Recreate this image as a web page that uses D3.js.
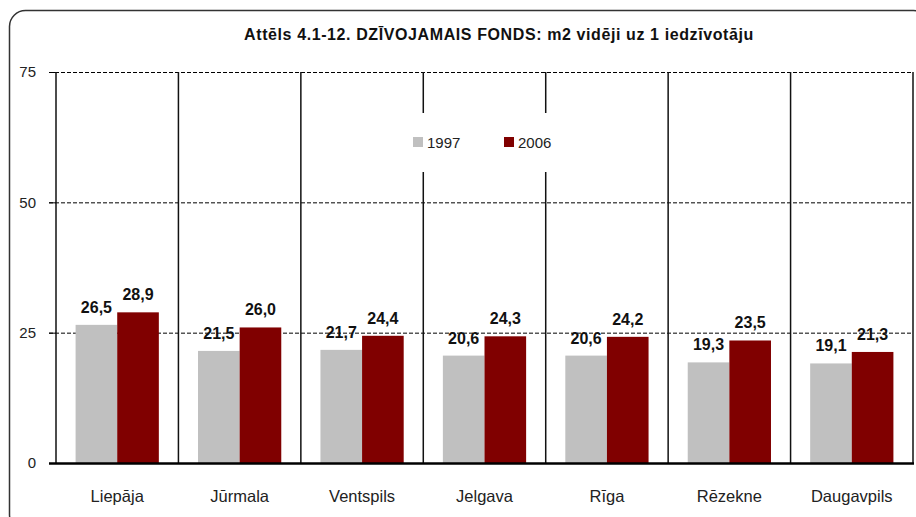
<!DOCTYPE html>
<html>
<head>
<meta charset="utf-8">
<script src="https://cdn.jsdelivr.net/npm/d3@7"></script>
<style>
  body { margin: 0; background: #fff; }
  svg { display: block; }
  text { font-family: "Liberation Sans", Arial, sans-serif; }
</style>
</head>
<body>
<div id="chart"></div>
<script>
// data
const categories = ["Liepāja", "Jūrmala", "Ventspils", "Jelgava", "Rīga", "Rēzekne", "Daugavpils"];
const years = ["1997", "2006"];
const values1997 = [26.5, 21.5, 21.7, 20.6, 20.6, 19.3, 19.1];
const values2006 = [28.9, 26.0, 24.4, 24.3, 24.2, 23.5, 21.3];
const yTicks = [0, 25, 50, 75];

const title = "Attēls 4.1-12. DZĪVOJAMAIS FONDS: m2 vidēji uz 1 iedzīvotāju";
const colors = { "1997": "#c0c0c0", "2006": "#800000" };

const width = 916, height = 517;
const plot = { left: 56, right: 913, top: 72, bottom: 463 };

const svg = d3.select("#chart").append("svg")
    .attr("width", width)
    .attr("height", height);

// outer rounded frame (cropped on the right and bottom)
svg.append("rect")
    .attr("x", 9.5).attr("y", 10.5)
    .attr("width", 920).attr("height", 520)
    .attr("rx", 16).attr("ry", 16)
    .attr("fill", "#fff")
    .attr("stroke", "#333")
    .attr("stroke-width", 1.5);

svg.append("text")
    .attr("x", 499)
    .attr("y", 40)
    .attr("text-anchor", "middle")
    .style("font-size", "16px")
    .style("font-weight", "bold")
    .style("letter-spacing", "0.6px")
    .style("fill", "#111")
    .text(title);

const x0 = d3.scaleBand()
    .domain(categories)
    .range([plot.left, plot.right])
    .padding(0);

const x1 = d3.scaleBand()
    .domain(years)
    .range([x0.bandwidth() * 0.16, x0.bandwidth() * 0.84])
    .padding(0);

const y = d3.scaleLinear()
    .domain([0, 75])
    .range([plot.bottom, plot.top]);

// dashed gridlines
svg.append("g")
    .selectAll("line")
    .data(yTicks.filter(d => d > 0))
    .enter()
    .append("line")
    .attr("x1", plot.left - 7)
    .attr("x2", plot.right)
    .attr("y1", d => y(d) + 0.5)
    .attr("y2", d => y(d) + 0.5)
    .attr("stroke", "#000")
    .attr("stroke-width", 1)
    .attr("stroke-dasharray", "4,2");

// y axis tick labels
const yAxis = svg.append("g")
    .attr("transform", `translate(${plot.left},0)`)
    .call(d3.axisLeft(y).tickValues(yTicks).tickSize(7).tickPadding(13));
yAxis.select(".domain").remove();
yAxis.selectAll(".tick line").attr("stroke", "#000");
yAxis.selectAll("text")
    .style("font-size", "15px")
    .style("fill", "#222")
    .style("font-family", "'Liberation Sans', Arial, sans-serif");

// bars
const rows = categories.map((c, i) => ({ cat: c, vals: [
    { year: "1997", v: values1997[i] },
    { year: "2006", v: values2006[i] }
]}));

const groups = svg.append("g")
    .selectAll("g")
    .data(rows)
    .enter()
    .append("g")
    .attr("transform", d => `translate(${x0(d.cat)},0)`);

groups.selectAll("rect")
    .data(d => d.vals)
    .enter()
    .append("rect")
    .attr("x", d => x1(d.year))
    .attr("y", d => y(d.v))
    .attr("width", x1.bandwidth())
    .attr("height", d => y(0) - y(d.v))
    .attr("fill", d => colors[d.year]);

// category separators
svg.append("g")
    .selectAll("line")
    .data(categories.map(c => x0(c)).concat([plot.right]))
    .enter()
    .append("line")
    .attr("x1", d => d)
    .attr("x2", d => d)
    .attr("y1", plot.top)
    .attr("y2", plot.bottom)
    .attr("stroke", "#111")
    .attr("stroke-width", 1.5);

// baseline
svg.append("line")
    .attr("x1", plot.left - 7)
    .attr("x2", plot.right + 1)
    .attr("y1", y(0) + 0.5)
    .attr("y2", y(0) + 0.5)
    .attr("stroke", "#000")
    .attr("stroke-width", 2.5);

// value labels
groups.selectAll(".val")
    .data(d => d.vals)
    .enter()
    .append("text")
    .attr("class", "val")
    .attr("x", d => x1(d.year) + x1.bandwidth() / 2)
    .attr("y", d => y(d.v) - 12)
    .attr("text-anchor", "middle")
    .style("font-size", "16px")
    .style("font-weight", "bold")
    .style("fill", "#111")
    .text(d => d3.format(".1f")(d.v).replace(".", ","));

// category labels
svg.append("g")
    .selectAll("text")
    .data(categories)
    .enter()
    .append("text")
    .attr("x", d => x0(d) + x0.bandwidth() / 2)
    .attr("y", 502)
    .attr("text-anchor", "middle")
    .style("font-size", "16.5px")
    .style("fill", "#222")
    .text(d => d);

// legend with white box over the separators
const legend = svg.append("g");
legend.append("rect")
    .attr("x", 400).attr("y", 113)
    .attr("width", 165).attr("height", 59)
    .attr("fill", "#fff");
years.forEach((yr, i) => {
    const lx = 413 + i * 91;
    legend.append("rect")
        .attr("x", lx).attr("y", 137)
        .attr("width", 10).attr("height", 10)
        .attr("fill", colors[yr]);
    legend.append("text")
        .attr("x", lx + 14).attr("y", 148)
        .style("font-size", "15px")
        .style("fill", "#222")
        .text(yr);
});
</script>
</body>
</html>
